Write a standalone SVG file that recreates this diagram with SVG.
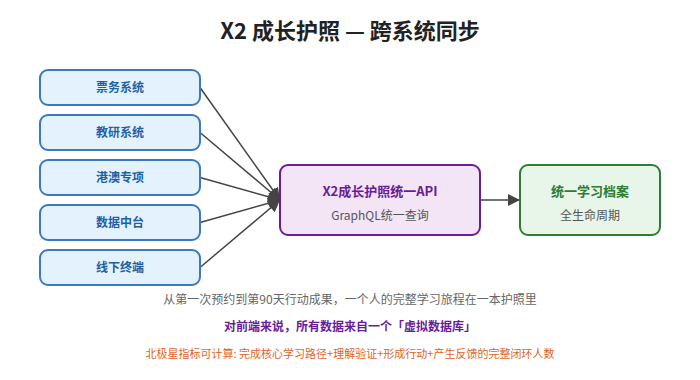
<svg xmlns="http://www.w3.org/2000/svg" width="700" height="380" viewBox="0 0 700 380">
<style>
text{font-family:"Noto Sans CJK SC","Noto Sans",sans-serif;text-anchor:middle}
.src rect{fill:#e3f2fd;stroke:#3b78be;stroke-width:2}
.src text{fill:#1f5fa6;font-size:12px;font-weight:bold}
.edge{stroke:#444;stroke-width:1.5;fill:none}
</style>
<defs>
<marker id="ah2" viewBox="0 0 10 10" refX="10" refY="5" markerWidth="12" markerHeight="12" orient="auto" markerUnits="userSpaceOnUse">
<path d="M0,0 L10,5 L0,10 z" fill="#444"/>
</marker>
</defs>
<rect width="700" height="380" fill="#fff"/>
<text x="350" y="39" font-size="22" font-weight="bold" fill="#222">X2 成长护照 — 跨系统同步</text>
<g id="connectors">
<path class="edge" d="M200,87.5 L280,200" marker-end="url(#ah2)"/>
<path class="edge" d="M200,132.5 L280,200" marker-end="url(#ah2)"/>
<path class="edge" d="M200,177.5 L280,200" marker-end="url(#ah2)"/>
<path class="edge" d="M200,222.5 L280,200" marker-end="url(#ah2)"/>
<path class="edge" d="M200,267.5 L280,200" marker-end="url(#ah2)"/>
<path class="edge" d="M480,200 L520,200" stroke-width="2" marker-end="url(#ah2)"/>
</g>
<g id="n1" class="src"><rect x="40" y="70" width="160" height="35" rx="8"/><text x="120" y="92">票务系统</text></g>
<g id="n2" class="src"><rect x="40" y="115" width="160" height="35" rx="8"/><text x="120" y="137">教研系统</text></g>
<g id="n3" class="src"><rect x="40" y="160" width="160" height="35" rx="8"/><text x="120" y="182">港澳专项</text></g>
<g id="n4" class="src"><rect x="40" y="205" width="160" height="35" rx="8"/><text x="120" y="227">数据中台</text></g>
<g id="n5" class="src"><rect x="40" y="250" width="160" height="35" rx="8"/><text x="120" y="272">线下终端</text></g>
<g id="api"><rect x="280" y="165" width="200" height="70" rx="8" fill="#f3e5f5" stroke="#6a1b9a" stroke-width="2"/>
<text x="380" y="196" font-size="13" font-weight="bold" fill="#6a1b9a">X2成长护照统一API</text>
<text x="380" y="220" font-size="12" fill="#555">GraphQL统一查询</text></g>
<g id="profile"><rect x="520" y="165" width="140" height="70" rx="8" fill="#e8f5e9" stroke="#2e7d32" stroke-width="2"/>
<text x="590" y="196" font-size="13" font-weight="bold" fill="#2e7d32">统一学习档案</text>
<text x="590" y="220" font-size="12" fill="#555">全生命周期</text></g>
<text x="350" y="304" font-size="12" fill="#666">从第一次预约到第90天行动成果，一个人的完整学习旅程在一本护照里</text>
<text x="350" y="331" font-size="12" font-weight="bold" fill="#6a1b9a">对前端来说，所有数据来自一个「虚拟数据库」</text>
<text x="350" y="358" font-size="11" fill="#e0641e">北极星指标可计算: 完成核心学习路径+理解验证+形成行动+产生反馈的完整闭环人数</text>
</svg>
